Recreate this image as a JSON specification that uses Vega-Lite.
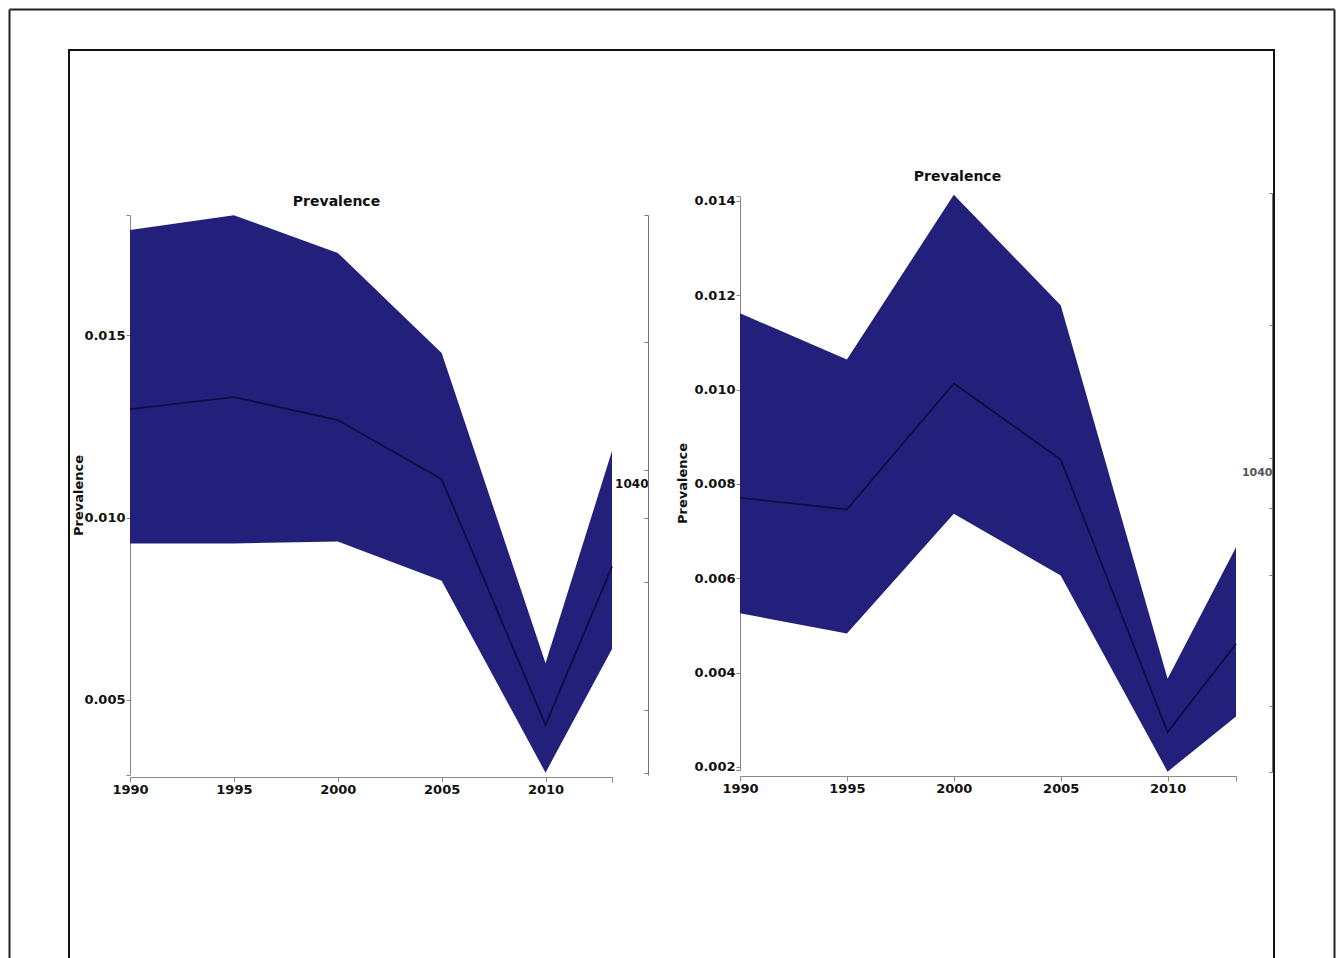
{
  "$schema": "https://vega.github.io/schema/vega-lite/v6.json",
  "width": 1205,
  "height": 915,
  "autosize": {"type": "none"},
  "padding": {"left": 69, "top": 50, "right": 65, "bottom": 0},
  "background": "white",
  "datasets": {
    "left": [
      {"year": 1990, "lower": 0.00929, "mid": 0.01297, "upper": 0.01788},
      {"year": 1995, "lower": 0.00929, "mid": 0.0133, "upper": 0.01828},
      {"year": 2000, "lower": 0.00934, "mid": 0.01267, "upper": 0.01725},
      {"year": 2005, "lower": 0.00827, "mid": 0.01105, "upper": 0.01451},
      {"year": 2010, "lower": 0.00301, "mid": 0.00432, "upper": 0.00601},
      {"year": 2013.2, "lower": 0.0064, "mid": 0.00866, "upper": 0.01182}
    ],
    "right": [
      {"year": 1990, "lower": 0.00526, "mid": 0.00771, "upper": 0.01162},
      {"year": 1995, "lower": 0.00483, "mid": 0.00746, "upper": 0.01064},
      {"year": 2000, "lower": 0.00737, "mid": 0.01013, "upper": 0.01413},
      {"year": 2005, "lower": 0.00606, "mid": 0.00852, "upper": 0.01179},
      {"year": 2010, "lower": 0.0019, "mid": 0.00274, "upper": 0.00387},
      {"year": 2013.2, "lower": 0.00307, "mid": 0.00461, "upper": 0.00666}
    ]
  },
  "config": {
    "view": {"stroke": "#111111", "strokeWidth": 2},
    "axis": {
      "labelFont": "DejaVu Sans",
      "labelFontWeight": "bold",
      "labelFontSize": 13,
      "labelColor": "#111111",
      "titleFont": "DejaVu Sans",
      "titleFontWeight": "bold",
      "titleFontSize": 13,
      "titleColor": "#111111",
      "domainColor": "#888888",
      "tickColor": "#888888",
      "labelFlush": false,
      "grid": false
    }
  },
  "resolve": {"scale": {"x": "independent", "y": "independent"}, "axis": {"x": "independent", "y": "independent"}},
  "layer": [
    {
      "data": {"name": "left"},
      "mark": {"type": "area", "color": "#22207a", "opacity": 1},
      "encoding": {
        "x": {"field": "year", "type": "quantitative",
          "scale": {"domain": [1990, 2013.2], "range": [61, 543], "zero": false, "nice": false},
          "axis": {"orient": "bottom", "offset": -188, "values": [1990, 1995, 2000, 2005, 2010, 2013.2], "labelExpr": "datum.value > 2012 ? '' : format(datum.value, 'd')", "tickSize": 5, "labelPadding": 1, "labelFlush": false, "title": null}},
        "y": {"field": "lower", "type": "quantitative",
          "scale": {"domain": [0.002945, 0.018288], "range": [725, 165], "zero": false, "nice": false},
          "axis": {"orient": "left", "offset": -61, "values": [0.002945, 0.005, 0.01, 0.015, 0.018288], "labelExpr": "(datum.value < 0.003 || datum.value > 0.018) ? '' : format(datum.value, '.3f')", "tickSize": 4, "labelPadding": 1, "title": "Prevalence", "titlePadding": -2}},
        "y2": {"field": "upper"}
      }
    },
    {
      "data": {"name": "left"},
      "mark": {"type": "line", "color": "#100d45", "strokeWidth": 1.8},
      "encoding": {
        "x": {"field": "year", "type": "quantitative",
          "scale": {"domain": [1990, 2013.2], "range": [61, 543], "zero": false, "nice": false}, "axis": null},
        "y": {"field": "mid", "type": "quantitative",
          "scale": {"domain": [0.002945, 0.018288], "range": [725, 165], "zero": false, "nice": false}, "axis": null}
      }
    },
    {
      "data": {"name": "right"},
      "mark": {"type": "area", "color": "#22207a", "opacity": 1},
      "encoding": {
        "x": {"field": "year", "type": "quantitative",
          "scale": {"domain": [1990, 2013.2], "range": [671, 1167], "zero": false, "nice": false},
          "axis": {"orient": "bottom", "offset": -189, "values": [1990, 1995, 2000, 2005, 2010, 2013.2], "labelExpr": "datum.value > 2012 ? '' : format(datum.value, 'd')", "tickSize": 5, "labelPadding": 1, "labelFlush": false, "title": null}},
        "y": {"field": "lower", "type": "quantitative",
          "scale": {"domain": [0.001936, 0.014106], "range": [720, 146], "zero": false, "nice": false},
          "axis": {"orient": "left", "offset": -671, "values": [0.001936, 0.002, 0.004, 0.006, 0.008, 0.01, 0.012, 0.014, 0.014106], "labelExpr": "(datum.value < 0.00199 || datum.value > 0.01401) ? '' : format(datum.value, '.3f')", "tickSize": 4, "labelPadding": 1, "title": "Prevalence", "titlePadding": 4}},
        "y2": {"field": "upper"}
      }
    },
    {
      "data": {"name": "right"},
      "mark": {"type": "line", "color": "#100d45", "strokeWidth": 1.8},
      "encoding": {
        "x": {"field": "year", "type": "quantitative",
          "scale": {"domain": [1990, 2013.2], "range": [671, 1167], "zero": false, "nice": false}, "axis": null},
        "y": {"field": "mid", "type": "quantitative",
          "scale": {"domain": [0.001936, 0.014106], "range": [720, 146], "zero": false, "nice": false}, "axis": null}
      }
    },
    {
      "data": {"name": "left"},
      "mark": {"type": "point", "opacity": 0},
      "encoding": {
        "x": {"field": "year", "type": "quantitative",
          "scale": {"domain": [1990, 2013.2], "range": [61, 543], "zero": false, "nice": false},
          "axis": {"orient": "top", "offset": 0, "domain": false, "ticks": false, "labels": false, "title": "Prevalence", "titleFontSize": 14, "titleX": 267, "titleY": 151, "titleBaseline": "middle", "titleAlign": "center", "titleAngle": 0}},
        "y": {"field": "mid", "type": "quantitative",
          "scale": {"domain": [0, 560], "range": [725, 165], "zero": false, "nice": false},
          "axis": {"orient": "left", "offset": -579, "values": [2, 65, 193, 257, 292, 305, 433, 560], "labelExpr": "datum.value == 292 ? '1040' : ''", "tickSize": 4, "labelPadding": -4, "labelFontSize": 12, "tickOpacity": {"condition": {"test": "datum.value == 292", "value": 0}, "value": 1}, "domainColor": "#777777", "tickColor": "#777777", "title": null}}
      }
    },
    {
      "data": {"name": "right"},
      "mark": {"type": "point", "opacity": 0},
      "encoding": {
        "x": {"field": "year", "type": "quantitative",
          "scale": {"domain": [1990, 2013.2], "range": [671, 1167], "zero": false, "nice": false},
          "axis": {"orient": "top", "offset": 0, "domain": false, "ticks": false, "labels": false, "title": "Prevalence", "titleFontSize": 14, "titleX": 888, "titleY": 126, "titleBaseline": "middle", "titleAlign": "center", "titleAngle": 0}},
        "y": {"field": "mid", "type": "quantitative",
          "scale": {"domain": [0, 579], "range": [722, 143], "zero": false, "nice": false},
          "axis": {"orient": "left", "offset": -1203, "values": [0, 66, 197, 264, 300, 314, 447, 579], "labelExpr": "datum.value == 300 ? '1040' : ''", "tickSize": 3, "labelPadding": -3, "labelFontSize": 11, "labelColor": "#555555", "tickOpacity": {"condition": {"test": "datum.value == 300", "value": 0}, "value": 1}, "domainColor": "#777777", "tickColor": "#777777", "title": null}}
      }
    },
    {
      "data": {"name": "left"},
      "mark": {"type": "point", "opacity": 0},
      "encoding": {
        "x": {"field": "year", "type": "quantitative",
          "scale": {"domain": [1990, 2013.2], "range": [-60, 1265], "zero": false, "nice": false},
          "axis": {"orient": "top", "offset": 41, "domain": true, "ticks": false, "labels": false, "title": null, "domainColor": "#222222", "domainWidth": 2}},
        "y": {"field": "mid", "type": "quantitative",
          "scale": {"domain": [0, 1], "range": [930, -41], "zero": false, "nice": false},
          "axis": {"orient": "left", "offset": 60, "domain": true, "ticks": false, "labels": false, "title": null, "domainColor": "#222222", "domainWidth": 2}}
      }
    },
    {
      "data": {"name": "right"},
      "mark": {"type": "point", "opacity": 0},
      "encoding": {
        "x": {"field": "year", "type": "quantitative",
          "scale": {"domain": [1990, 2013.2], "range": [0, 1205], "zero": false, "nice": false}, "axis": null},
        "y": {"field": "mid", "type": "quantitative",
          "scale": {"domain": [0, 1], "range": [930, -41], "zero": false, "nice": false},
          "axis": {"orient": "left", "offset": -1265, "domain": true, "ticks": false, "labels": false, "title": null, "domainColor": "#222222", "domainWidth": 2}}
      }
    }
  ]
}
